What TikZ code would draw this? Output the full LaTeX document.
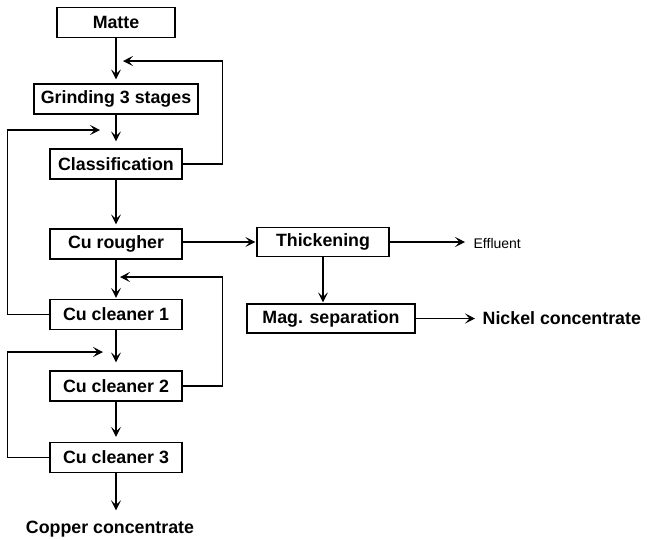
\documentclass[tikz,border=0pt]{standalone}
\usepackage{fontspec}
\setmainfont{Liberation Sans}
\usetikzlibrary{arrows.meta}
\begin{document}
\begin{tikzpicture}[x=1pt, y=-1pt, line width=1.3pt,
    box/.style={draw, minimum height=30pt, minimum width=132pt, inner sep=0pt,
        font=\fontsize{17.8}{20}\selectfont\bfseries},
    lbl/.style={inner sep=0pt, font=\fontsize{17.8}{20}\selectfont\bfseries},
    arr/.style={-{Stealth[length=10pt, width=10pt, inset=4.5pt]}, shorten >=4pt}]
    \useasboundingbox (0,0) rectangle (647,539);

    % 1. Copper line (left column)
    \node[box, minimum width=118pt] (matte) at (116,22.5) {Matte};
    \node[box, minimum width=164pt] (grind) at (116,99) {Grinding 3 stages};
    \node[box] (class) at (116,164) {Classification};
    \node[box] (rough) at (116,244) {Cu rougher};
    \node[box] (clean1) at (116,314.5) {Cu cleaner 1};
    \node[box] (clean2) at (116,386) {Cu cleaner 2};
    \node[box] (clean3) at (116,457.5) {Cu cleaner 3};
    \node[lbl] (copper) at (110,529) {Copper concentrate};

    % 2. Nickel line (right column)
    \node[box, minimum height=29pt] (thick) at (323,242) {Thickening};
    \node[box, minimum width=168pt, minimum height=29pt] (mag) at (331,318.5) {Mag. separation};
    \node[lbl, anchor=west] (nickel) at (482,318.5) {Nickel concentrate};
    \node[anchor=west, inner sep=0pt, font=\fontsize{14}{16}\selectfont] (effluent) at (473,243) {Effluent};

    % 3. Tips of the recycle streams
    \coordinate (back1) at (123,61);
    \coordinate (back2) at (100,130);
    \coordinate (back3) at (120,277);
    \coordinate (back4) at (103,352);

    % 4. Main flow
    \draw[arr] (matte.south) -- (grind.north);
    \draw[arr, shorten >=7pt] (grind.south) -- (class.north);
    \draw[arr] (class.south) -- (rough.north);
    \draw[arr, shorten >=1pt] (rough.south) -- (clean1.north);
    \draw[arr, shorten >=8pt] (clean1.south) -- (clean2.north);
    \draw[arr, shorten >=5pt] (clean2.south) -- (clean3.north);
    \draw[arr, shorten >=10pt] (clean3.south) -- (clean3.south |- copper.north);

    % 5. Recycle streams
    \draw[arr, shorten >=0pt] (class.east) -- ++(40,0) |- (back1);
    \draw[arr, shorten >=0pt] (clean1.west) -- ++(-42,0) |- (back2);
    \draw[arr, shorten >=0pt] (clean2.east) -- ++(40,0) |- (back3);
    \draw[arr, shorten >=0pt] (clean3.west) -- ++(-42,0) |- (back4);

    % 6. Rougher tails to the nickel line
    \draw[arr, shorten >=1pt] (rough.east |- thick.west) -- (thick.west);
    \draw[arr, shorten >=8pt] (thick.east) -- (thick.east -| effluent.west);
    \draw[arr, shorten >=1pt] (thick.south) -- (thick.south |- mag.north);
    \draw[arr, shorten >=7pt] (mag.east) -- (nickel.west);
\end{tikzpicture}
\end{document}
